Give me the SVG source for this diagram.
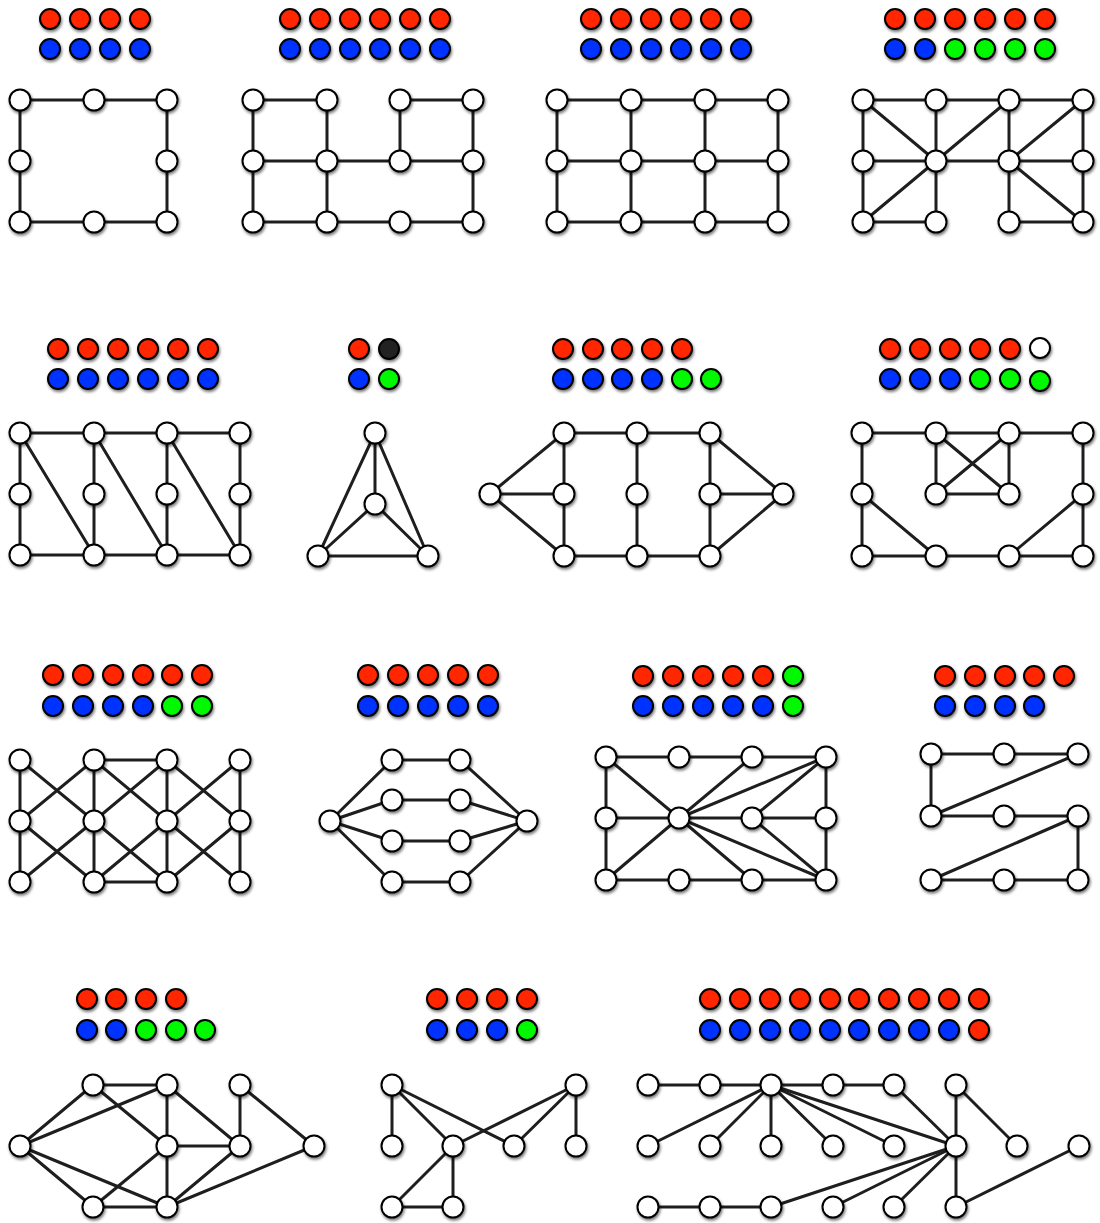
<svg xmlns="http://www.w3.org/2000/svg" width="1100" height="1223" viewBox="0 0 1100 1223">
<defs>
<filter id="sh" x="-50%" y="-50%" width="200%" height="200%">
<feGaussianBlur in="SourceAlpha" stdDeviation="1.6"/>
<feOffset dx="0.5" dy="2.2" result="o"/>
<feComponentTransfer><feFuncA type="linear" slope="0.55"/></feComponentTransfer>
<feMerge><feMergeNode/><feMergeNode in="SourceGraphic"/></feMerge>
</filter>
</defs>
<style>
.e line{stroke:#1e1e1e;stroke-width:3;stroke-linecap:round}
.n circle{fill:#fff;stroke:#000;stroke-width:2;filter:url(#sh)}
.L circle{stroke:#000;stroke-width:2;filter:url(#sh)}
.r{fill:#ff2600}.b{fill:#0433ff}.g{fill:#00f900}.k{fill:#222}.w{fill:#fff}
</style>
<rect width="1100" height="1223" fill="#fff"/>

<!-- Graph 1 -->
<g id="graph1">
<g id="graph1-legend" class="L">
<circle class="r" cx="50" cy="19" r="10"/><circle class="r" cx="80" cy="19" r="10"/><circle class="r" cx="110" cy="19" r="10"/><circle class="r" cx="140" cy="19" r="10"/>
<circle class="b" cx="50" cy="49" r="10"/><circle class="b" cx="80" cy="49" r="10"/><circle class="b" cx="110" cy="49" r="10"/><circle class="b" cx="140" cy="49" r="10"/>
</g>
<g id="graph1-edges" class="e">
<line x1="20" y1="100" x2="94" y2="100"/><line x1="94" y1="100" x2="167" y2="100"/>
<line x1="20" y1="100" x2="20" y2="161"/><line x1="20" y1="161" x2="20" y2="222"/>
<line x1="167" y1="100" x2="167" y2="161"/><line x1="167" y1="161" x2="167" y2="222"/>
<line x1="20" y1="222" x2="94" y2="222"/><line x1="94" y1="222" x2="167" y2="222"/>
</g>
<g class="n">
<g id="g1-n1"><circle cx="20" cy="100" r="10.5"/></g>
<g id="g1-n2"><circle cx="94" cy="100" r="10.5"/></g>
<g id="g1-n3"><circle cx="167" cy="100" r="10.5"/></g>
<g id="g1-n4"><circle cx="20" cy="161" r="10.5"/></g>
<g id="g1-n5"><circle cx="167" cy="161" r="10.5"/></g>
<g id="g1-n6"><circle cx="20" cy="222" r="10.5"/></g>
<g id="g1-n7"><circle cx="94" cy="222" r="10.5"/></g>
<g id="g1-n8"><circle cx="167" cy="222" r="10.5"/></g>
</g>
</g>

<!-- Graph 2 -->
<g id="graph2">
<g id="graph2-legend" class="L">
<circle class="r" cx="290" cy="19" r="10"/><circle class="r" cx="320" cy="19" r="10"/><circle class="r" cx="350" cy="19" r="10"/><circle class="r" cx="380" cy="19" r="10"/><circle class="r" cx="410" cy="19" r="10"/><circle class="r" cx="440" cy="19" r="10"/>
<circle class="b" cx="290" cy="49" r="10"/><circle class="b" cx="320" cy="49" r="10"/><circle class="b" cx="350" cy="49" r="10"/><circle class="b" cx="380" cy="49" r="10"/><circle class="b" cx="410" cy="49" r="10"/><circle class="b" cx="440" cy="49" r="10"/>
</g>
<g id="graph2-edges" class="e">
<line x1="253" y1="100" x2="327" y2="100"/><line x1="400" y1="100" x2="473" y2="100"/>
<line x1="253" y1="100" x2="253" y2="161"/><line x1="327" y1="100" x2="327" y2="161"/><line x1="400" y1="100" x2="400" y2="161"/><line x1="473" y1="100" x2="473" y2="161"/>
<line x1="253" y1="161" x2="327" y2="161"/><line x1="327" y1="161" x2="400" y2="161"/><line x1="400" y1="161" x2="473" y2="161"/>
<line x1="253" y1="161" x2="253" y2="222"/><line x1="327" y1="161" x2="327" y2="222"/><line x1="473" y1="161" x2="473" y2="222"/>
<line x1="253" y1="222" x2="327" y2="222"/><line x1="327" y1="222" x2="400" y2="222"/><line x1="400" y1="222" x2="473" y2="222"/>
</g>
<g class="n">
<g id="g2-n1"><circle cx="253" cy="100" r="10.5"/></g>
<g id="g2-n2"><circle cx="327" cy="100" r="10.5"/></g>
<g id="g2-n3"><circle cx="400" cy="100" r="10.5"/></g>
<g id="g2-n4"><circle cx="473" cy="100" r="10.5"/></g>
<g id="g2-n5"><circle cx="253" cy="161" r="10.5"/></g>
<g id="g2-n6"><circle cx="327" cy="161" r="10.5"/></g>
<g id="g2-n7"><circle cx="400" cy="161" r="10.5"/></g>
<g id="g2-n8"><circle cx="473" cy="161" r="10.5"/></g>
<g id="g2-n9"><circle cx="253" cy="222" r="10.5"/></g>
<g id="g2-n10"><circle cx="327" cy="222" r="10.5"/></g>
<g id="g2-n11"><circle cx="400" cy="222" r="10.5"/></g>
<g id="g2-n12"><circle cx="473" cy="222" r="10.5"/></g>
</g>
</g>

<!-- Graph 3 -->
<g id="graph3">
<g id="graph3-legend" class="L">
<circle class="r" cx="591" cy="19" r="10"/><circle class="r" cx="621" cy="19" r="10"/><circle class="r" cx="651" cy="19" r="10"/><circle class="r" cx="681" cy="19" r="10"/><circle class="r" cx="711" cy="19" r="10"/><circle class="r" cx="741" cy="19" r="10"/>
<circle class="b" cx="591" cy="49" r="10"/><circle class="b" cx="621" cy="49" r="10"/><circle class="b" cx="651" cy="49" r="10"/><circle class="b" cx="681" cy="49" r="10"/><circle class="b" cx="711" cy="49" r="10"/><circle class="b" cx="741" cy="49" r="10"/>
</g>
<g id="graph3-edges" class="e">
<line x1="557" y1="100" x2="631" y2="100"/><line x1="631" y1="100" x2="705" y2="100"/><line x1="705" y1="100" x2="778" y2="100"/>
<line x1="557" y1="161" x2="631" y2="161"/><line x1="631" y1="161" x2="705" y2="161"/><line x1="705" y1="161" x2="778" y2="161"/>
<line x1="557" y1="222" x2="631" y2="222"/><line x1="631" y1="222" x2="705" y2="222"/><line x1="705" y1="222" x2="778" y2="222"/>
<line x1="557" y1="100" x2="557" y2="222"/><line x1="631" y1="100" x2="631" y2="222"/><line x1="705" y1="100" x2="705" y2="222"/><line x1="778" y1="100" x2="778" y2="222"/>
</g>
<g class="n">
<g id="g3-n1"><circle cx="557" cy="100" r="10.5"/></g>
<g id="g3-n2"><circle cx="631" cy="100" r="10.5"/></g>
<g id="g3-n3"><circle cx="705" cy="100" r="10.5"/></g>
<g id="g3-n4"><circle cx="778" cy="100" r="10.5"/></g>
<g id="g3-n5"><circle cx="557" cy="161" r="10.5"/></g>
<g id="g3-n6"><circle cx="631" cy="161" r="10.5"/></g>
<g id="g3-n7"><circle cx="705" cy="161" r="10.5"/></g>
<g id="g3-n8"><circle cx="778" cy="161" r="10.5"/></g>
<g id="g3-n9"><circle cx="557" cy="222" r="10.5"/></g>
<g id="g3-n10"><circle cx="631" cy="222" r="10.5"/></g>
<g id="g3-n11"><circle cx="705" cy="222" r="10.5"/></g>
<g id="g3-n12"><circle cx="778" cy="222" r="10.5"/></g>
</g>
</g>

<!-- Graph 4 -->
<g id="graph4">
<g id="graph4-legend" class="L">
<circle class="r" cx="895" cy="19" r="10"/><circle class="r" cx="925" cy="19" r="10"/><circle class="r" cx="955" cy="19" r="10"/><circle class="r" cx="985" cy="19" r="10"/><circle class="r" cx="1015" cy="19" r="10"/><circle class="r" cx="1045" cy="19" r="10"/>
<circle class="b" cx="895" cy="49" r="10"/><circle class="b" cx="925" cy="49" r="10"/><circle class="g" cx="955" cy="49" r="10"/><circle class="g" cx="985" cy="49" r="10"/><circle class="g" cx="1015" cy="49" r="10"/><circle class="g" cx="1045" cy="49" r="10"/>
</g>
<g id="graph4-edges" class="e">
<line x1="863" y1="100" x2="936" y2="100"/><line x1="936" y1="100" x2="1009" y2="100"/><line x1="1009" y1="100" x2="1083" y2="100"/>
<line x1="863" y1="161" x2="936" y2="161"/><line x1="936" y1="161" x2="1009" y2="161"/><line x1="1009" y1="161" x2="1083" y2="161"/>
<line x1="863" y1="222" x2="936" y2="222"/><line x1="1009" y1="222" x2="1083" y2="222"/>
<line x1="863" y1="100" x2="863" y2="222"/><line x1="936" y1="100" x2="936" y2="222"/><line x1="1009" y1="100" x2="1009" y2="222"/><line x1="1083" y1="100" x2="1083" y2="222"/>
<line x1="863" y1="100" x2="936" y2="161"/><line x1="936" y1="161" x2="1009" y2="100"/><line x1="936" y1="161" x2="863" y2="222"/>
<line x1="1009" y1="161" x2="1083" y2="100"/><line x1="1009" y1="161" x2="1083" y2="222"/>
</g>
<g class="n">
<g id="g4-n1"><circle cx="863" cy="100" r="10.5"/></g>
<g id="g4-n2"><circle cx="936" cy="100" r="10.5"/></g>
<g id="g4-n3"><circle cx="1009" cy="100" r="10.5"/></g>
<g id="g4-n4"><circle cx="1083" cy="100" r="10.5"/></g>
<g id="g4-n5"><circle cx="863" cy="161" r="10.5"/></g>
<g id="g4-n6"><circle cx="936" cy="161" r="10.5"/></g>
<g id="g4-n7"><circle cx="1009" cy="161" r="10.5"/></g>
<g id="g4-n8"><circle cx="1083" cy="161" r="10.5"/></g>
<g id="g4-n9"><circle cx="863" cy="222" r="10.5"/></g>
<g id="g4-n10"><circle cx="936" cy="222" r="10.5"/></g>
<g id="g4-n11"><circle cx="1009" cy="222" r="10.5"/></g>
<g id="g4-n12"><circle cx="1083" cy="222" r="10.5"/></g>
</g>
</g>

<!-- Graph 5 -->
<g id="graph5">
<g id="graph5-legend" class="L">
<circle class="r" cx="58" cy="349" r="10"/><circle class="r" cx="88" cy="349" r="10"/><circle class="r" cx="118" cy="349" r="10"/><circle class="r" cx="148" cy="349" r="10"/><circle class="r" cx="178" cy="349" r="10"/><circle class="r" cx="208" cy="349" r="10"/>
<circle class="b" cx="58" cy="379" r="10"/><circle class="b" cx="88" cy="379" r="10"/><circle class="b" cx="118" cy="379" r="10"/><circle class="b" cx="148" cy="379" r="10"/><circle class="b" cx="178" cy="379" r="10"/><circle class="b" cx="208" cy="379" r="10"/>
</g>
<g id="graph5-edges" class="e">
<line x1="20" y1="433" x2="94" y2="433"/><line x1="94" y1="433" x2="167" y2="433"/><line x1="167" y1="433" x2="240" y2="433"/>
<line x1="20" y1="555" x2="94" y2="555"/><line x1="94" y1="555" x2="167" y2="555"/><line x1="167" y1="555" x2="240" y2="555"/>
<line x1="20" y1="433" x2="20" y2="555"/><line x1="94" y1="433" x2="94" y2="555"/><line x1="167" y1="433" x2="167" y2="555"/><line x1="240" y1="433" x2="240" y2="555"/>
<line x1="20" y1="433" x2="94" y2="555"/><line x1="94" y1="433" x2="167" y2="555"/><line x1="167" y1="433" x2="240" y2="555"/>
</g>
<g class="n">
<g id="g5-n1"><circle cx="20" cy="433" r="10.5"/></g>
<g id="g5-n2"><circle cx="94" cy="433" r="10.5"/></g>
<g id="g5-n3"><circle cx="167" cy="433" r="10.5"/></g>
<g id="g5-n4"><circle cx="240" cy="433" r="10.5"/></g>
<g id="g5-n5"><circle cx="20" cy="494" r="10.5"/></g>
<g id="g5-n6"><circle cx="94" cy="494" r="10.5"/></g>
<g id="g5-n7"><circle cx="167" cy="494" r="10.5"/></g>
<g id="g5-n8"><circle cx="240" cy="494" r="10.5"/></g>
<g id="g5-n9"><circle cx="20" cy="555" r="10.5"/></g>
<g id="g5-n10"><circle cx="94" cy="555" r="10.5"/></g>
<g id="g5-n11"><circle cx="167" cy="555" r="10.5"/></g>
<g id="g5-n12"><circle cx="240" cy="555" r="10.5"/></g>
</g>
</g>

<!-- Graph 6 -->
<g id="graph6">
<g id="graph6-legend" class="L">
<circle class="r" cx="359" cy="349" r="10"/><circle class="k" cx="389" cy="349" r="10"/>
<circle class="b" cx="359" cy="379" r="10"/><circle class="g" cx="389" cy="379" r="10"/>
</g>
<g id="graph6-edges" class="e">
<line x1="375" y1="433" x2="375" y2="504"/><line x1="375" y1="433" x2="318" y2="556"/><line x1="375" y1="433" x2="428" y2="556"/>
<line x1="375" y1="504" x2="318" y2="556"/><line x1="375" y1="504" x2="428" y2="556"/><line x1="318" y1="556" x2="428" y2="556"/>
</g>
<g class="n">
<g id="g6-n1"><circle cx="375" cy="433" r="10.5"/></g>
<g id="g6-n2"><circle cx="375" cy="504" r="10.5"/></g>
<g id="g6-n3"><circle cx="318" cy="556" r="10.5"/></g>
<g id="g6-n4"><circle cx="428" cy="556" r="10.5"/></g>
</g>
</g>

<!-- Graph 7 -->
<g id="graph7">
<g id="graph7-legend" class="L">
<circle class="r" cx="563" cy="349" r="10"/><circle class="r" cx="593" cy="349" r="10"/><circle class="r" cx="622" cy="349" r="10"/><circle class="r" cx="652" cy="349" r="10"/><circle class="r" cx="682" cy="349" r="10"/>
<circle class="b" cx="563" cy="379" r="10"/><circle class="b" cx="593" cy="379" r="10"/><circle class="b" cx="622" cy="379" r="10"/><circle class="b" cx="652" cy="379" r="10"/><circle class="g" cx="682" cy="379" r="10"/><circle class="g" cx="711" cy="379" r="10"/>
</g>
<g id="graph7-edges" class="e">
<line x1="564" y1="433" x2="637" y2="433"/><line x1="637" y1="433" x2="710" y2="433"/>
<line x1="564" y1="556" x2="637" y2="556"/><line x1="637" y1="556" x2="710" y2="556"/>
<line x1="564" y1="433" x2="564" y2="556"/><line x1="637" y1="433" x2="637" y2="556"/><line x1="710" y1="433" x2="710" y2="556"/>
<line x1="490" y1="494" x2="564" y2="433"/><line x1="490" y1="494" x2="564" y2="494"/><line x1="490" y1="494" x2="564" y2="556"/>
<line x1="783" y1="494" x2="710" y2="433"/><line x1="783" y1="494" x2="710" y2="494"/><line x1="783" y1="494" x2="710" y2="556"/>
</g>
<g class="n">
<g id="g7-n1"><circle cx="564" cy="433" r="10.5"/></g>
<g id="g7-n2"><circle cx="637" cy="433" r="10.5"/></g>
<g id="g7-n3"><circle cx="710" cy="433" r="10.5"/></g>
<g id="g7-n4"><circle cx="490" cy="494" r="10.5"/></g>
<g id="g7-n5"><circle cx="564" cy="494" r="10.5"/></g>
<g id="g7-n6"><circle cx="637" cy="494" r="10.5"/></g>
<g id="g7-n7"><circle cx="710" cy="494" r="10.5"/></g>
<g id="g7-n8"><circle cx="783" cy="494" r="10.5"/></g>
<g id="g7-n9"><circle cx="564" cy="556" r="10.5"/></g>
<g id="g7-n10"><circle cx="637" cy="556" r="10.5"/></g>
<g id="g7-n11"><circle cx="710" cy="556" r="10.5"/></g>
</g>
</g>

<!-- Graph 8 -->
<g id="graph8">
<g id="graph8-legend" class="L">
<circle class="r" cx="890" cy="349" r="10"/><circle class="r" cx="920" cy="349" r="10"/><circle class="r" cx="950" cy="349" r="10"/><circle class="r" cx="980" cy="349" r="10"/><circle class="r" cx="1010" cy="349" r="10"/><circle class="w" cx="1040" cy="348" r="10"/>
<circle class="b" cx="890" cy="379" r="10"/><circle class="b" cx="920" cy="379" r="10"/><circle class="b" cx="950" cy="379" r="10"/><circle class="g" cx="980" cy="379" r="10"/><circle class="g" cx="1010" cy="379" r="10"/><circle class="g" cx="1040" cy="381" r="10"/>
</g>
<g id="graph8-edges" class="e">
<line x1="862" y1="433" x2="936" y2="433"/><line x1="936" y1="433" x2="1009" y2="433"/><line x1="1009" y1="433" x2="1083" y2="433"/>
<line x1="862" y1="433" x2="862" y2="556"/><line x1="1083" y1="433" x2="1083" y2="556"/>
<line x1="862" y1="556" x2="936" y2="556"/><line x1="936" y1="556" x2="1009" y2="556"/><line x1="1009" y1="556" x2="1083" y2="556"/>
<line x1="862" y1="494" x2="936" y2="556"/><line x1="1083" y1="494" x2="1009" y2="556"/>
<line x1="936" y1="433" x2="936" y2="494"/><line x1="1009" y1="433" x2="1009" y2="494"/><line x1="936" y1="494" x2="1009" y2="494"/>
<line x1="936" y1="433" x2="1009" y2="494"/><line x1="1009" y1="433" x2="936" y2="494"/>
</g>
<g class="n">
<g id="g8-n1"><circle cx="862" cy="433" r="10.5"/></g>
<g id="g8-n2"><circle cx="936" cy="433" r="10.5"/></g>
<g id="g8-n3"><circle cx="1009" cy="433" r="10.5"/></g>
<g id="g8-n4"><circle cx="1083" cy="433" r="10.5"/></g>
<g id="g8-n5"><circle cx="862" cy="494" r="10.5"/></g>
<g id="g8-n6"><circle cx="936" cy="494" r="10.5"/></g>
<g id="g8-n7"><circle cx="1009" cy="494" r="10.5"/></g>
<g id="g8-n8"><circle cx="1083" cy="494" r="10.5"/></g>
<g id="g8-n9"><circle cx="862" cy="556" r="10.5"/></g>
<g id="g8-n10"><circle cx="936" cy="556" r="10.5"/></g>
<g id="g8-n11"><circle cx="1009" cy="556" r="10.5"/></g>
<g id="g8-n12"><circle cx="1083" cy="556" r="10.5"/></g>
</g>
</g>

<!-- Graph 9 -->
<g id="graph9">
<g id="graph9-legend" class="L">
<circle class="r" cx="53" cy="675" r="10"/><circle class="r" cx="83" cy="675" r="10"/><circle class="r" cx="113" cy="675" r="10"/><circle class="r" cx="143" cy="675" r="10"/><circle class="r" cx="172" cy="675" r="10"/><circle class="r" cx="202" cy="675" r="10"/>
<circle class="b" cx="53" cy="706" r="10"/><circle class="b" cx="83" cy="706" r="10"/><circle class="b" cx="113" cy="706" r="10"/><circle class="b" cx="143" cy="706" r="10"/><circle class="g" cx="172" cy="706" r="10"/><circle class="g" cx="202" cy="706" r="10"/>
</g>
<g id="graph9-edges" class="e">
<line x1="94" y1="760" x2="167" y2="760"/><line x1="94" y1="882" x2="167" y2="882"/>
<line x1="20" y1="760" x2="20" y2="882"/><line x1="94" y1="760" x2="94" y2="882"/><line x1="167" y1="760" x2="167" y2="882"/><line x1="240" y1="760" x2="240" y2="882"/>
<line x1="20" y1="760" x2="94" y2="821"/><line x1="94" y1="760" x2="20" y2="821"/><line x1="20" y1="821" x2="94" y2="882"/><line x1="94" y1="821" x2="20" y2="882"/>
<line x1="94" y1="760" x2="167" y2="821"/><line x1="167" y1="760" x2="94" y2="821"/><line x1="94" y1="821" x2="167" y2="882"/><line x1="167" y1="821" x2="94" y2="882"/>
<line x1="167" y1="760" x2="240" y2="821"/><line x1="240" y1="760" x2="167" y2="821"/><line x1="167" y1="821" x2="240" y2="882"/><line x1="240" y1="821" x2="167" y2="882"/>
</g>
<g class="n">
<g id="g9-n1"><circle cx="20" cy="760" r="10.5"/></g>
<g id="g9-n2"><circle cx="94" cy="760" r="10.5"/></g>
<g id="g9-n3"><circle cx="167" cy="760" r="10.5"/></g>
<g id="g9-n4"><circle cx="240" cy="760" r="10.5"/></g>
<g id="g9-n5"><circle cx="20" cy="821" r="10.5"/></g>
<g id="g9-n6"><circle cx="94" cy="821" r="10.5"/></g>
<g id="g9-n7"><circle cx="167" cy="821" r="10.5"/></g>
<g id="g9-n8"><circle cx="240" cy="821" r="10.5"/></g>
<g id="g9-n9"><circle cx="20" cy="882" r="10.5"/></g>
<g id="g9-n10"><circle cx="94" cy="882" r="10.5"/></g>
<g id="g9-n11"><circle cx="167" cy="882" r="10.5"/></g>
<g id="g9-n12"><circle cx="240" cy="882" r="10.5"/></g>
</g>
</g>

<!-- Graph 10 -->
<g id="graph10">
<g id="graph10-legend" class="L">
<circle class="r" cx="368" cy="675" r="10"/><circle class="r" cx="398" cy="675" r="10"/><circle class="r" cx="428" cy="675" r="10"/><circle class="r" cx="458" cy="675" r="10"/><circle class="r" cx="488" cy="675" r="10"/>
<circle class="b" cx="368" cy="706" r="10"/><circle class="b" cx="398" cy="706" r="10"/><circle class="b" cx="428" cy="706" r="10"/><circle class="b" cx="458" cy="706" r="10"/><circle class="b" cx="488" cy="706" r="10"/>
</g>
<g id="graph10-edges" class="e">
<line x1="392" y1="760" x2="460" y2="760"/><line x1="392" y1="800" x2="460" y2="800"/><line x1="392" y1="841" x2="460" y2="841"/><line x1="392" y1="882" x2="460" y2="882"/>
<line x1="330" y1="821" x2="392" y2="760"/><line x1="330" y1="821" x2="392" y2="800"/><line x1="330" y1="821" x2="392" y2="841"/><line x1="330" y1="821" x2="392" y2="882"/>
<line x1="527" y1="821" x2="460" y2="760"/><line x1="527" y1="821" x2="460" y2="800"/><line x1="527" y1="821" x2="460" y2="841"/><line x1="527" y1="821" x2="460" y2="882"/>
</g>
<g class="n">
<g id="g10-n1"><circle cx="330" cy="821" r="10.5"/></g>
<g id="g10-n2"><circle cx="392" cy="760" r="10.5"/></g>
<g id="g10-n3"><circle cx="460" cy="760" r="10.5"/></g>
<g id="g10-n4"><circle cx="392" cy="800" r="10.5"/></g>
<g id="g10-n5"><circle cx="460" cy="800" r="10.5"/></g>
<g id="g10-n6"><circle cx="392" cy="841" r="10.5"/></g>
<g id="g10-n7"><circle cx="460" cy="841" r="10.5"/></g>
<g id="g10-n8"><circle cx="392" cy="882" r="10.5"/></g>
<g id="g10-n9"><circle cx="460" cy="882" r="10.5"/></g>
<g id="g10-n10"><circle cx="527" cy="821" r="10.5"/></g>
</g>
</g>

<!-- Graph 11 -->
<g id="graph11">
<g id="graph11-legend" class="L">
<circle class="r" cx="643" cy="676" r="10"/><circle class="r" cx="673" cy="676" r="10"/><circle class="r" cx="703" cy="676" r="10"/><circle class="r" cx="733" cy="676" r="10"/><circle class="r" cx="763" cy="676" r="10"/><circle class="g" cx="793" cy="676" r="10"/>
<circle class="b" cx="643" cy="706" r="10"/><circle class="b" cx="673" cy="706" r="10"/><circle class="b" cx="703" cy="706" r="10"/><circle class="b" cx="733" cy="706" r="10"/><circle class="b" cx="763" cy="706" r="10"/><circle class="g" cx="793" cy="706" r="10"/>
</g>
<g id="graph11-edges" class="e">
<line x1="606" y1="757" x2="679" y2="757"/><line x1="679" y1="757" x2="752" y2="757"/><line x1="752" y1="757" x2="826" y2="757"/>
<line x1="606" y1="818" x2="679" y2="818"/><line x1="679" y1="818" x2="752" y2="818"/><line x1="752" y1="818" x2="826" y2="818"/>
<line x1="606" y1="880" x2="679" y2="880"/><line x1="679" y1="880" x2="752" y2="880"/><line x1="752" y1="880" x2="826" y2="880"/>
<line x1="606" y1="757" x2="606" y2="880"/><line x1="826" y1="757" x2="826" y2="880"/>
<line x1="606" y1="757" x2="679" y2="818"/><line x1="679" y1="818" x2="606" y2="880"/>
<line x1="679" y1="818" x2="752" y2="757"/><line x1="679" y1="818" x2="826" y2="757"/><line x1="679" y1="818" x2="826" y2="880"/><line x1="679" y1="818" x2="752" y2="880"/>
<line x1="752" y1="818" x2="826" y2="757"/><line x1="752" y1="818" x2="826" y2="880"/>
</g>
<g class="n">
<g id="g11-n1"><circle cx="606" cy="757" r="10.5"/></g>
<g id="g11-n2"><circle cx="679" cy="757" r="10.5"/></g>
<g id="g11-n3"><circle cx="752" cy="757" r="10.5"/></g>
<g id="g11-n4"><circle cx="826" cy="757" r="10.5"/></g>
<g id="g11-n5"><circle cx="606" cy="818" r="10.5"/></g>
<g id="g11-n6"><circle cx="679" cy="818" r="10.5"/></g>
<g id="g11-n7"><circle cx="752" cy="818" r="10.5"/></g>
<g id="g11-n8"><circle cx="826" cy="818" r="10.5"/></g>
<g id="g11-n9"><circle cx="606" cy="880" r="10.5"/></g>
<g id="g11-n10"><circle cx="679" cy="880" r="10.5"/></g>
<g id="g11-n11"><circle cx="752" cy="880" r="10.5"/></g>
<g id="g11-n12"><circle cx="826" cy="880" r="10.5"/></g>
</g>
</g>

<!-- Graph 12 -->
<g id="graph12">
<g id="graph12-legend" class="L">
<circle class="r" cx="945" cy="676" r="10"/><circle class="r" cx="975" cy="676" r="10"/><circle class="r" cx="1005" cy="676" r="10"/><circle class="r" cx="1034" cy="676" r="10"/><circle class="r" cx="1064" cy="676" r="10"/>
<circle class="b" cx="945" cy="706" r="10"/><circle class="b" cx="975" cy="706" r="10"/><circle class="b" cx="1005" cy="706" r="10"/><circle class="b" cx="1034" cy="706" r="10"/>
</g>
<g id="graph12-edges" class="e">
<line x1="931" y1="754" x2="1004" y2="754"/><line x1="1004" y1="754" x2="1078" y2="754"/>
<line x1="931" y1="754" x2="931" y2="816"/><line x1="931" y1="816" x2="1078" y2="754"/>
<line x1="931" y1="816" x2="1004" y2="816"/><line x1="1004" y1="816" x2="1078" y2="816"/>
<line x1="1078" y1="816" x2="931" y2="880"/><line x1="1078" y1="816" x2="1078" y2="880"/>
<line x1="931" y1="880" x2="1004" y2="880"/><line x1="1004" y1="880" x2="1078" y2="880"/>
</g>
<g class="n">
<g id="g12-n1"><circle cx="931" cy="754" r="10.5"/></g>
<g id="g12-n2"><circle cx="1004" cy="754" r="10.5"/></g>
<g id="g12-n3"><circle cx="1078" cy="754" r="10.5"/></g>
<g id="g12-n4"><circle cx="931" cy="816" r="10.5"/></g>
<g id="g12-n5"><circle cx="1004" cy="816" r="10.5"/></g>
<g id="g12-n6"><circle cx="1078" cy="816" r="10.5"/></g>
<g id="g12-n7"><circle cx="931" cy="880" r="10.5"/></g>
<g id="g12-n8"><circle cx="1004" cy="880" r="10.5"/></g>
<g id="g12-n9"><circle cx="1078" cy="880" r="10.5"/></g>
</g>
</g>

<!-- Graph 13 -->
<g id="graph13">
<g id="graph13-legend" class="L">
<circle class="r" cx="87" cy="999" r="10"/><circle class="r" cx="116" cy="999" r="10"/><circle class="r" cx="146" cy="999" r="10"/><circle class="r" cx="176" cy="999" r="10"/>
<circle class="b" cx="87" cy="1030" r="10"/><circle class="b" cx="116" cy="1030" r="10"/><circle class="g" cx="146" cy="1030" r="10"/><circle class="g" cx="176" cy="1030" r="10"/><circle class="g" cx="205" cy="1030" r="10"/>
</g>
<g id="graph13-edges" class="e">
<line x1="93" y1="1085" x2="167" y2="1085"/>
<line x1="93" y1="1085" x2="20" y2="1146"/><line x1="20" y1="1146" x2="167" y2="1085"/>
<line x1="93" y1="1085" x2="167" y2="1146"/><line x1="167" y1="1085" x2="167" y2="1146"/><line x1="167" y1="1085" x2="240" y2="1146"/>
<line x1="240" y1="1085" x2="240" y2="1146"/><line x1="240" y1="1085" x2="314" y2="1146"/>
<line x1="167" y1="1146" x2="240" y2="1146"/>
<line x1="20" y1="1146" x2="93" y2="1207"/><line x1="20" y1="1146" x2="167" y2="1207"/>
<line x1="167" y1="1146" x2="93" y2="1207"/><line x1="167" y1="1146" x2="167" y2="1207"/>
<line x1="240" y1="1146" x2="167" y2="1207"/><line x1="314" y1="1146" x2="167" y2="1207"/>
<line x1="93" y1="1207" x2="167" y2="1207"/>
</g>
<g class="n">
<g id="g13-n1"><circle cx="93" cy="1085" r="10.5"/></g>
<g id="g13-n2"><circle cx="167" cy="1085" r="10.5"/></g>
<g id="g13-n3"><circle cx="240" cy="1085" r="10.5"/></g>
<g id="g13-n4"><circle cx="20" cy="1146" r="10.5"/></g>
<g id="g13-n5"><circle cx="167" cy="1146" r="10.5"/></g>
<g id="g13-n6"><circle cx="240" cy="1146" r="10.5"/></g>
<g id="g13-n7"><circle cx="314" cy="1146" r="10.5"/></g>
<g id="g13-n8"><circle cx="93" cy="1207" r="10.5"/></g>
<g id="g13-n9"><circle cx="167" cy="1207" r="10.5"/></g>
</g>
</g>

<!-- Graph 14 -->
<g id="graph14">
<g id="graph14-legend" class="L">
<circle class="r" cx="437" cy="999" r="10"/><circle class="r" cx="467" cy="999" r="10"/><circle class="r" cx="497" cy="999" r="10"/><circle class="r" cx="527" cy="999" r="10"/>
<circle class="b" cx="437" cy="1030" r="10"/><circle class="b" cx="467" cy="1030" r="10"/><circle class="b" cx="497" cy="1030" r="10"/><circle class="g" cx="527" cy="1030" r="10"/>
</g>
<g id="graph14-edges" class="e">
<line x1="392" y1="1085" x2="392" y2="1146"/><line x1="392" y1="1085" x2="453" y2="1146"/><line x1="392" y1="1085" x2="514" y2="1146"/>
<line x1="576" y1="1085" x2="453" y2="1146"/><line x1="576" y1="1085" x2="514" y2="1146"/><line x1="576" y1="1085" x2="576" y2="1146"/>
<line x1="453" y1="1146" x2="392" y2="1207"/><line x1="453" y1="1146" x2="453" y2="1207"/><line x1="392" y1="1207" x2="453" y2="1207"/>
</g>
<g class="n">
<g id="g14-n1"><circle cx="392" cy="1085" r="10.5"/></g>
<g id="g14-n2"><circle cx="576" cy="1085" r="10.5"/></g>
<g id="g14-n3"><circle cx="392" cy="1146" r="10.5"/></g>
<g id="g14-n4"><circle cx="453" cy="1146" r="10.5"/></g>
<g id="g14-n5"><circle cx="514" cy="1146" r="10.5"/></g>
<g id="g14-n6"><circle cx="576" cy="1146" r="10.5"/></g>
<g id="g14-n7"><circle cx="392" cy="1207" r="10.5"/></g>
<g id="g14-n8"><circle cx="453" cy="1207" r="10.5"/></g>
</g>
</g>

<!-- Graph 15 -->
<g id="graph15">
<g id="graph15-legend" class="L">
<circle class="r" cx="710" cy="999" r="10"/><circle class="r" cx="740" cy="999" r="10"/><circle class="r" cx="770" cy="999" r="10"/><circle class="r" cx="800" cy="999" r="10"/><circle class="r" cx="830" cy="999" r="10"/><circle class="r" cx="859" cy="999" r="10"/><circle class="r" cx="889" cy="999" r="10"/><circle class="r" cx="919" cy="999" r="10"/><circle class="r" cx="949" cy="999" r="10"/><circle class="r" cx="979" cy="999" r="10"/>
<circle class="b" cx="710" cy="1030" r="10"/><circle class="b" cx="740" cy="1030" r="10"/><circle class="b" cx="770" cy="1030" r="10"/><circle class="b" cx="800" cy="1030" r="10"/><circle class="b" cx="830" cy="1030" r="10"/><circle class="b" cx="859" cy="1030" r="10"/><circle class="b" cx="889" cy="1030" r="10"/><circle class="b" cx="919" cy="1030" r="10"/><circle class="b" cx="949" cy="1030" r="10"/><circle class="r" cx="979" cy="1030" r="10"/>
</g>
<g id="graph15-edges" class="e">
<line x1="648" y1="1085" x2="710" y2="1085"/><line x1="710" y1="1085" x2="771" y2="1085"/><line x1="771" y1="1085" x2="833" y2="1085"/><line x1="833" y1="1085" x2="894" y2="1085"/>
<line x1="771" y1="1085" x2="648" y2="1146"/><line x1="771" y1="1085" x2="710" y2="1146"/><line x1="771" y1="1085" x2="771" y2="1146"/><line x1="771" y1="1085" x2="833" y2="1146"/><line x1="771" y1="1085" x2="894" y2="1146"/><line x1="771" y1="1085" x2="956" y2="1146"/>
<line x1="894" y1="1085" x2="956" y2="1146"/><line x1="956" y1="1085" x2="956" y2="1146"/><line x1="956" y1="1085" x2="1017" y2="1146"/>
<line x1="956" y1="1146" x2="771" y2="1207"/><line x1="956" y1="1146" x2="833" y2="1207"/><line x1="956" y1="1146" x2="894" y2="1207"/><line x1="956" y1="1146" x2="956" y2="1207"/>
<line x1="956" y1="1207" x2="1079" y2="1146"/>
<line x1="648" y1="1207" x2="710" y2="1207"/><line x1="710" y1="1207" x2="771" y2="1207"/>
</g>
<g class="n">
<g id="g15-n1"><circle cx="648" cy="1085" r="10.5"/></g>
<g id="g15-n2"><circle cx="710" cy="1085" r="10.5"/></g>
<g id="g15-n3"><circle cx="771" cy="1085" r="10.5"/></g>
<g id="g15-n4"><circle cx="833" cy="1085" r="10.5"/></g>
<g id="g15-n5"><circle cx="894" cy="1085" r="10.5"/></g>
<g id="g15-n6"><circle cx="956" cy="1085" r="10.5"/></g>
<g id="g15-n7"><circle cx="648" cy="1146" r="10.5"/></g>
<g id="g15-n8"><circle cx="710" cy="1146" r="10.5"/></g>
<g id="g15-n9"><circle cx="771" cy="1146" r="10.5"/></g>
<g id="g15-n10"><circle cx="833" cy="1146" r="10.5"/></g>
<g id="g15-n11"><circle cx="894" cy="1146" r="10.5"/></g>
<g id="g15-n12"><circle cx="956" cy="1146" r="10.5"/></g>
<g id="g15-n13"><circle cx="1017" cy="1146" r="10.5"/></g>
<g id="g15-n14"><circle cx="1079" cy="1146" r="10.5"/></g>
<g id="g15-n15"><circle cx="648" cy="1207" r="10.5"/></g>
<g id="g15-n16"><circle cx="710" cy="1207" r="10.5"/></g>
<g id="g15-n17"><circle cx="771" cy="1207" r="10.5"/></g>
<g id="g15-n18"><circle cx="833" cy="1207" r="10.5"/></g>
<g id="g15-n19"><circle cx="894" cy="1207" r="10.5"/></g>
<g id="g15-n20"><circle cx="956" cy="1207" r="10.5"/></g>
</g>
</g>
</svg>
